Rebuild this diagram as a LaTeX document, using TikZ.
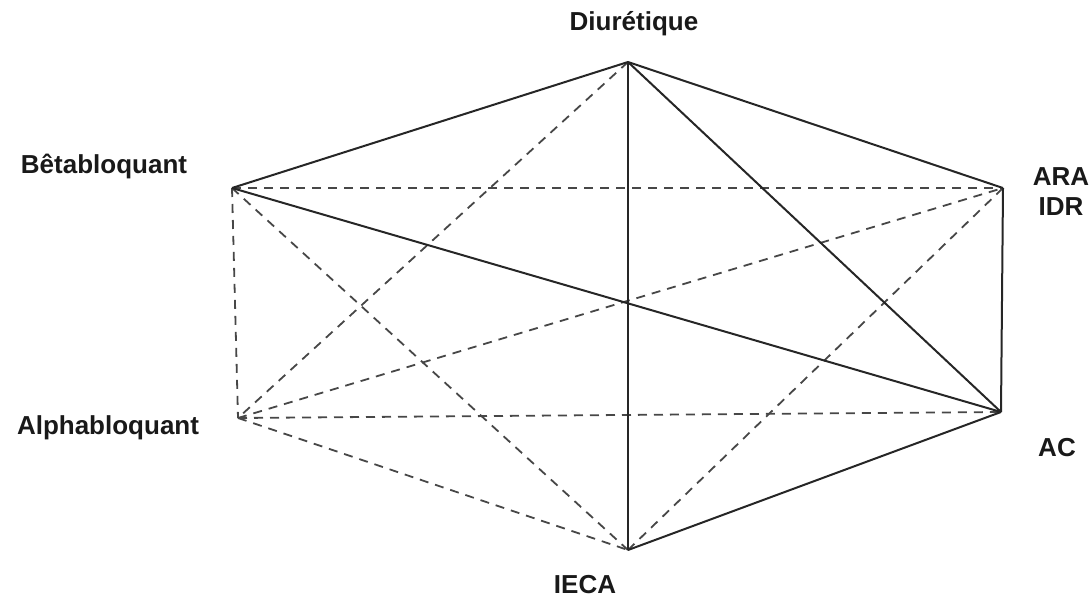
\documentclass[tikz,border=0pt]{standalone}
\usepackage{fontspec}
\setmainfont{Liberation Sans}
\begin{document}
\begin{tikzpicture}[x=1pt,y=-1pt,
  solidl/.style={line width=2pt,draw=black!85},
  dashl/.style={line width=1.8pt,draw=black!72,dash pattern=on 9pt off 7pt},
  lab/.style={font=\fontsize{26}{30}\selectfont\bfseries,text=black!90,inner sep=0pt},
  pt/.style={inner sep=0pt,minimum size=0pt}]
\useasboundingbox (0,0) rectangle (1092,605);
\coordinate (D) at (628,62);
\coordinate (B) at (232,188);
\coordinate (R) at (1003,188);
\coordinate (A) at (238,418);
\coordinate (C) at (1001,412);
\coordinate (I) at (628,550);
% dashed
\draw[dashl] (D) -- (A);
\draw[dashl] (B) -- (R);
\draw[dashl] (B) -- (A);
\draw[dashl] (B) -- (I);
\draw[dashl] (A) -- (R);
\draw[dashl] (A) -- (C);
\draw[dashl] (A) -- (I);
\draw[dashl] (I) -- (R);
% solid
\draw[solidl] (D) -- (B);
\draw[solidl] (D) -- (R);
\draw[solidl] (D) -- (I);
\draw[solidl] (D) -- (C);
\draw[solidl] (B) -- (C);
\draw[solidl] (R) -- (C);
\draw[solidl] (I) -- (C);
% labels
\node[lab] (lD) at (634,24) {Diurétique};
\node[lab] (lB) at (104,166) {Bêtabloquant};
\node[lab] (lA) at (108,428) {Alphabloquant};
\node[lab,align=center] (lR) at (1061,192) {ARA\\IDR};
\node[lab] (lC) at (1057,448) {AC};
\node[lab] (lI) at (585,585) {IECA};
\end{tikzpicture}
\end{document}
